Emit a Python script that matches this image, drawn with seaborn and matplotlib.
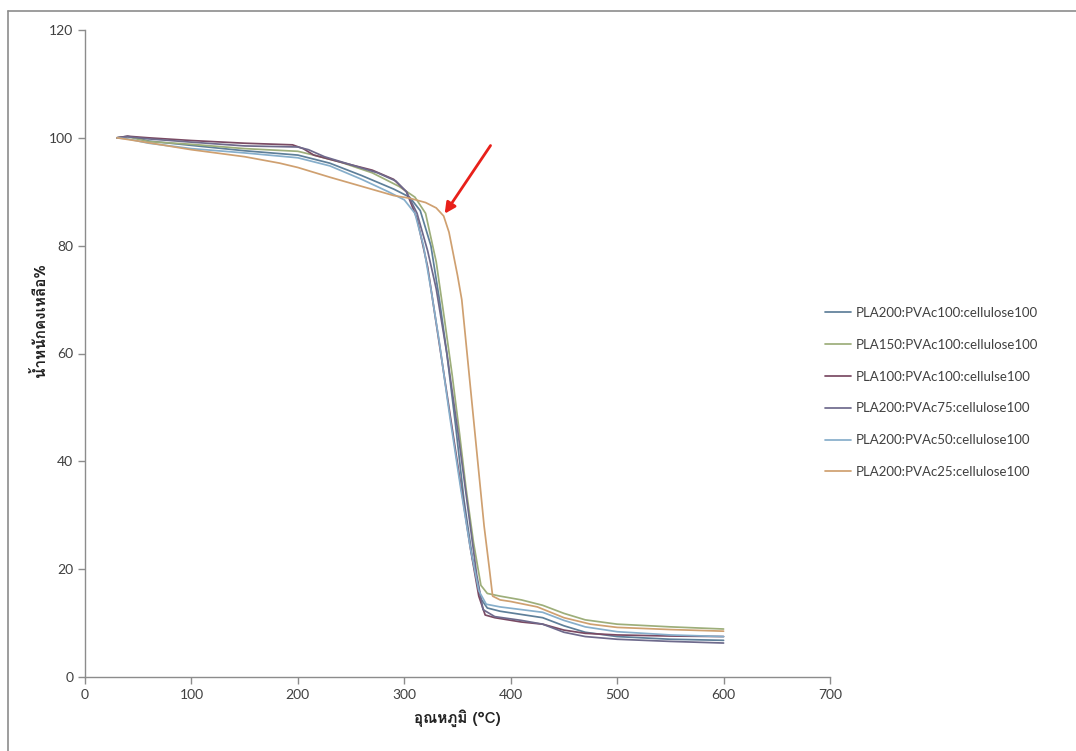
import numpy as np
import pandas as pd
import matplotlib
matplotlib.use("Agg")
import matplotlib.pyplot as plt
import seaborn as sns
from matplotlib import font_manager
from matplotlib.ft2font import FT2Font
from matplotlib.lines import Line2D

# ---------------- data ----------------
series_names = [
    "PLA200:PVAc100:cellulose100",
    "PLA150:PVAc100:cellulose100",
    "PLA100:PVAc100:cellulse100",
    "PLA200:PVAc75:cellulose100",
    "PLA200:PVAc50:cellulose100",
    "PLA200:PVAc25:cellulose100",
]

s1_x = [30, 40, 60, 100, 150, 200, 230, 260, 290, 305, 315, 325, 333, 340, 348, 356, 364, 372, 378, 390, 410, 430, 450, 470, 500, 550, 600]
s1_y = [100, 100.3, 99.4, 98.6, 97.6, 96.8, 95.3, 93, 90.5, 89, 86.5, 80, 70, 60, 47, 33, 22, 14.5, 12.8, 12.2, 11.6, 11, 9.5, 8.3, 7.5, 7.0, 6.8]

s2_x = [30, 40, 60, 100, 150, 200, 215, 240, 270, 295, 310, 320, 330, 338, 345, 352, 358, 365, 372, 378, 390, 410, 430, 450, 470, 500, 550, 600]
s2_y = [100, 100.2, 99.3, 98.8, 98, 97.5, 96.8, 95.5, 93.5, 91, 89, 86, 77, 66, 56, 45, 35, 25, 17, 15.5, 15, 14.3, 13.3, 11.8, 10.6, 9.8, 9.3, 8.9]

s3_x = [30, 40, 60, 100, 150, 195, 205, 215, 240, 270, 290, 302, 312, 322, 332, 342, 352, 362, 370, 376, 385, 410, 430, 450, 470, 500, 550, 600]
s3_y = [100, 100.3, 100, 99.5, 99, 98.7, 98, 96.8, 95.5, 94, 92.3, 90, 85, 76, 63, 50, 37, 24, 15, 11.5, 11, 10.2, 9.8, 8.7, 8.1, 7.8, 7.6, 7.5]

s4_x = [30, 40, 60, 100, 150, 200, 210, 225, 250, 275, 292, 302, 312, 322, 330, 340, 350, 360, 368, 374, 385, 410, 430, 450, 470, 500, 550, 600]
s4_y = [100, 100.2, 99.8, 99.2, 98.5, 98.3, 97.8, 96.5, 95, 93.5, 92, 90, 86, 79, 72, 60, 46, 31, 19, 12.5, 11.2, 10.5, 9.8, 8.3, 7.5, 7.0, 6.6, 6.3]

s5_x = [30, 40, 60, 100, 150, 200, 230, 260, 285, 300, 310, 318, 325, 333, 343, 353, 362, 370, 377, 390, 410, 430, 450, 470, 500, 550, 600]
s5_y = [100, 99.8, 99, 98, 97.2, 96.3, 94.8, 92.3, 90, 88.5, 86, 80, 72, 62, 48, 35, 24, 16, 13.5, 13, 12.5, 12, 10.5, 9.3, 8.4, 7.8, 7.5]

s6_x = [30, 50, 100, 150, 183, 200, 230, 260, 290, 305, 320, 330, 337, 342, 346, 350, 354, 360, 364, 370, 375, 380, 383, 390, 400, 425, 450, 475, 500, 550, 600]
s6_y = [100, 99.4, 97.8, 96.5, 95.3, 94.5, 92.7, 91, 89.3, 88.8, 88, 87, 85.5, 82.5, 78.5, 74.5, 70, 58, 50, 38, 28, 20, 15, 14.3, 14, 13, 11, 9.8, 9.2, 8.8, 8.5]

xs = [s1_x, s2_x, s3_x, s4_x, s5_x, s6_x]
ys = [s1_y, s2_y, s3_y, s4_y, s5_y, s6_y]

x_ticks = [0, 100, 200, 300, 400, 500, 600, 700]
y_ticks = [0, 20, 40, 60, 80, 100, 120]

x_label = "อุณหภูมิ (°C)"
y_label = "น้ำหนักคงเหลือ%"

colors = ["#5E7F99", "#9DAE7A", "#7A4A63", "#6E6A8C", "#86AECB", "#CFA070"]

frames = []
for name, x, y in zip(series_names, xs, ys):
    frames.append(pd.DataFrame({"temp": x, "weight": y, "sample": name}))
df = pd.concat(frames, ignore_index=True)

# ---------------- style ----------------
sns.set_style("white")
plt.rcParams["font.family"] = ["Lato", "DejaVu Sans"]

thai_family = None
for f in font_manager.fontManager.ttflist:
    try:
        if 0x0E01 in FT2Font(f.fname).get_charmap():
            thai_family = f.name
            break
    except Exception:
        pass
thai_fams = ([thai_family] if thai_family else []) + ["DejaVu Sans"]

W, H = 1076, 751
fig = plt.figure(figsize=(W / 100, H / 100), dpi=100)
ax = fig.add_axes([85 / W, 1 - 677 / H, (830 - 85) / W, (677 - 30) / H])

sns.lineplot(data=df, x="temp", y="weight", hue="sample", hue_order=series_names,
             palette=colors, estimator=None, sort=False, lw=1.25, ax=ax)

ax.set_xlim(0, 700)
ax.set_ylim(0, 120)
ax.set_xticks(x_ticks)
ax.set_yticks(y_ticks)
ax.set_xlabel("")
ax.set_ylabel("")
for s in ["top", "right"]:
    ax.spines[s].set_visible(False)
for s in ["left", "bottom"]:
    ax.spines[s].set_color("#8C8C8C")
    ax.spines[s].set_linewidth(1.0)
ax.tick_params(axis="both", direction="out", length=5, width=1, color="#8C8C8C",
               labelsize=10, labelcolor="#404040", bottom=True, left=True)

# arrow annotation
ax.annotate("", xy=(336.5, 85.5), xytext=(382.5, 99.0),
            arrowprops=dict(arrowstyle="-|>", color="#E8201A", lw=2.0, mutation_scale=16))

# legend
handles, labels = ax.get_legend_handles_labels()
ax.legend(handles, labels, loc="upper left", bbox_to_anchor=(825 / W, 1 - 307 / H),
          bbox_transform=fig.transFigure, frameon=False, borderpad=0, borderaxespad=0,
          handlelength=2.0, handletextpad=0.35, labelspacing=1.5, fontsize=9.5,
          labelcolor="#404040")

# axis titles
fig.text(457 / W, 1 - 718 / H, x_label, ha="center", va="center", fontsize=11,
         fontweight="bold", family=thai_fams, color="#222222")
fig.text(40 / W, 1 - 320 / H, y_label, ha="center", va="center", rotation=90,
         fontsize=11, fontweight="bold", family=thai_fams, color="#222222")

# chart-area frame
fig.add_artist(Line2D([8 / W, 1], [1 - 11 / H, 1 - 11 / H], transform=fig.transFigure,
                      color="#8C8C8C", lw=1.2))
fig.add_artist(Line2D([8 / W, 8 / W], [0, 1 - 11 / H], transform=fig.transFigure,
                      color="#8C8C8C", lw=1.2))

fig.savefig("out.png", dpi=100)
